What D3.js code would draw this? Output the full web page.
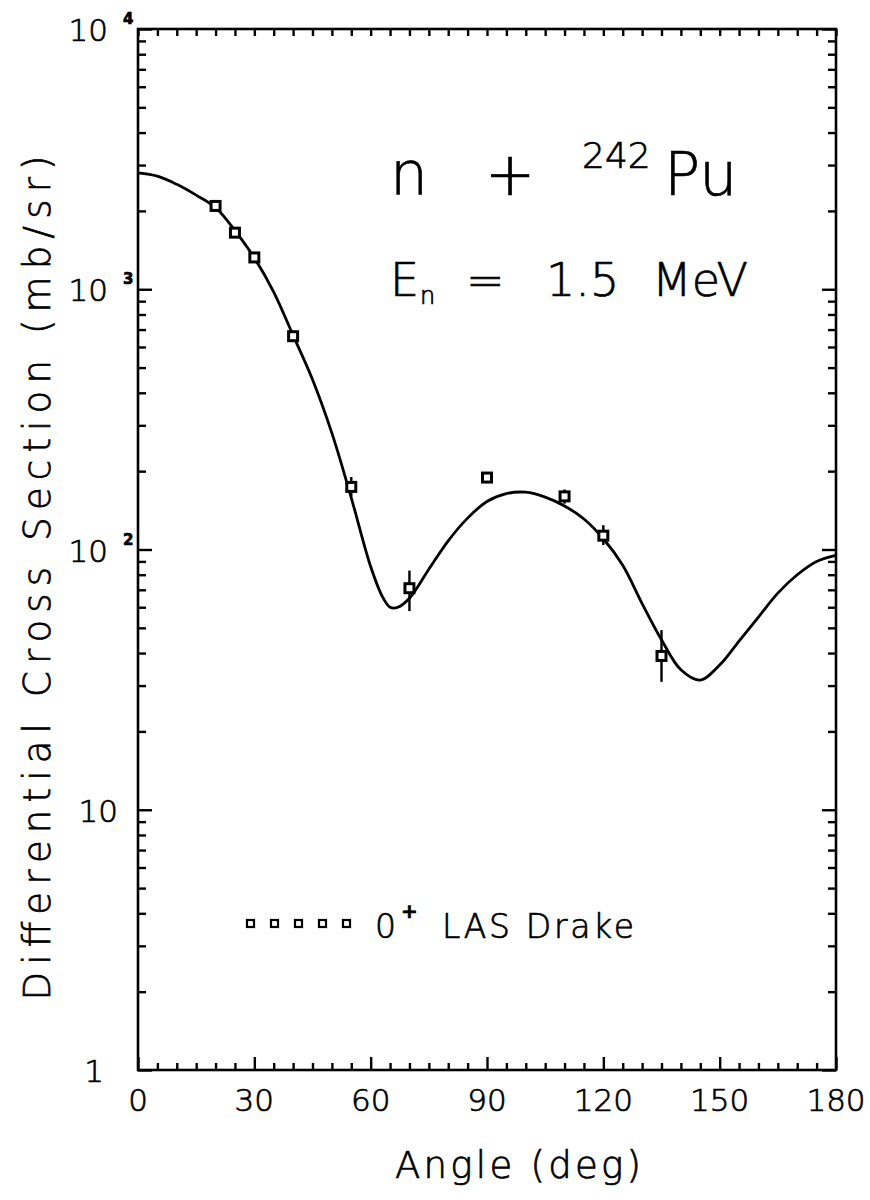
<!DOCTYPE html>
<html><head><meta charset="utf-8">
<script src="https://cdn.jsdelivr.net/npm/d3@7"></script>
<style>body{margin:0;background:#fff}svg{display:block}text{font-family:"DejaVu Sans",sans-serif;font-weight:200;fill:#000;stroke:#000;stroke-width:0.7}</style>
</head><body><svg id="c" width="870" height="1200"></svg>
<script>
// data points (LAS Drake, 0+)
const angles = [20, 25, 30, 40, 55, 70, 90, 110, 120, 135];
const xsec   = [2090, 1650, 1325, 660, 174, 71, 189, 160, 113, 39];
const errLo  = [2000, 1590, 1270, 630, 160, 58, 182, 150, 104, 31];
const errHi  = [2180, 1710, 1380, 690, 190, 83, 197, 170, 124, 49];
// calculated curve
const curveAngles = [0,5,10,15,20,25,30,35,40,45,50,55,60,63,65,67,70,75,80,85,90,95,100,105,110,115,120,125,130,135,140,145,150,155,160,165,170,175,180];
const curveVals   = [2800,2720,2530,2300,2060,1680,1320,975,665,450,280,158,86,66,60,60,65,84,108,132,153,164,166,159,147,131,110,87,62,45,34.5,31.5,36,44.5,55,68,80,90,95];
// ticks
const xTickLabels = [0,30,60,90,120,150,180];
const yDecades = [1,10,100,1000,10000];
const yDecadeExp = ["", "", "2", "3", "4"];

const svg = d3.select("#c");
const L=138, R=836, T=29, B=1070;
const x = d3.scaleLinear().domain([0,180]).range([L,R]);
const y = d3.scaleLog().domain([1,1e4]).range([B,T]);

const g = svg.append("g");
// frame
g.append("rect").attr("x",L).attr("y",T).attr("width",R-L).attr("height",B-T)
 .attr("fill","none").attr("stroke","#000").attr("stroke-width",2.6);

// x ticks via axes
const xt = d3.range(0,181,5);
const gxb = g.append("g").attr("transform",`translate(0,${B})`)
  .call(d3.axisBottom(x).tickValues(xt).tickFormat("").tickSizeOuter(0).tickSizeInner(-7));
gxb.selectAll(".tick line").attr("y2", d => d%30===0 ? -13 : -7);
g.append("g").attr("transform",`translate(0,${T})`)
  .call(d3.axisTop(x).tickValues(xt).tickFormat("").tickSizeOuter(0).tickSizeInner(-7));
// y ticks
const yt = [];
for (let e=0;e<4;e++) for (let m=1;m<10;m++) yt.push(m*Math.pow(10,e));
yt.push(1e4);
const isMajor = d => Math.abs(Math.log10(d)-Math.round(Math.log10(d)))<1e-9;
const gyl = g.append("g").attr("transform",`translate(${L},0)`)
  .call(d3.axisLeft(y).tickValues(yt).tickFormat("").tickSizeOuter(0).tickSizeInner(-8));
gyl.selectAll(".tick line").attr("x2", d => isMajor(d) ? 14 : 8);
const gyr = g.append("g").attr("transform",`translate(${R},0)`)
  .call(d3.axisRight(y).tickValues(yt).tickFormat("").tickSizeOuter(0).tickSizeInner(-8));
gyr.selectAll(".tick line").attr("x2", d => isMajor(d) ? -14 : -8);
g.selectAll(".domain").remove();
g.selectAll(".tick line").attr("stroke","#000").attr("stroke-width",2.4);

// x tick labels
g.selectAll(".xl").data(xTickLabels).join("text").attr("class","xl")
 .attr("x",d=>x(d)).attr("y",B+41).attr("text-anchor","middle")
 .attr("font-size",31).text(d=>d);

// y tick labels
yDecades.forEach((d,i)=>{
  const yy = y(d)+12;
  if (d===1) {
    g.append("text").attr("x",104).attr("y",yy).attr("text-anchor","end").attr("font-size",31).text("1");
  } else if (d===10) {
    g.append("text").attr("x",118).attr("y",yy).attr("text-anchor","end").attr("font-size",31).text("10");
  } else {
    g.append("text").attr("x",108).attr("y",yy).attr("text-anchor","end").attr("font-size",31).text("10");
    g.append("text").attr("x",123).attr("y",yy-17).attr("font-size",15).style("font-weight","bold").text(yDecadeExp[i]);
  }
});

// axis titles
g.append("text").attr("transform",`translate(50,578) rotate(-90)`).attr("text-anchor","middle")
 .attr("font-size",37).attr("textLength",845).attr("lengthAdjust","spacing")
 .text("Differential Cross Section (mb/sr)");
g.append("text").attr("x",518).attr("y",1178).attr("text-anchor","middle")
 .attr("font-size",37).attr("textLength",246).attr("lengthAdjust","spacing").text("Angle (deg)");

// curve
const line = d3.line().x((d,i)=>x(curveAngles[i])).y(d=>y(d)).curve(d3.curveCatmullRom.alpha(0.5));
g.append("path").datum(curveVals).attr("d",line).attr("fill","none").attr("stroke","#000").attr("stroke-width",2.8);

// error bars
g.selectAll(".eb").data(angles).join("line").attr("class","eb")
 .attr("x1",d=>x(d)).attr("x2",d=>x(d))
 .attr("y1",(d,i)=>y(errLo[i])).attr("y2",(d,i)=>y(errHi[i]))
 .attr("stroke","#000").attr("stroke-width",2.4);
// markers
const ms=9;
g.selectAll(".pt").data(angles).join("rect").attr("class","pt")
 .attr("x",d=>x(d)-ms/2).attr("y",(d,i)=>y(xsec[i])-ms/2).attr("width",ms).attr("height",ms)
 .attr("fill","#fff").attr("stroke","#000").attr("stroke-width",3);

// title
g.append("text").attr("x",390).attr("y",195).attr("font-size",60).text("n");
g.append("text").attr("x",485).attr("y",195).attr("font-size",60).text("+");
g.append("text").attr("x",582).attr("y",168).attr("font-size",36).text("242");
g.append("text").attr("x",664).attr("y",195).attr("font-size",60).text("Pu");

g.append("text").attr("x",390).attr("y",296).attr("font-size",46).text("E");
g.append("text").attr("x",420).attr("y",304).attr("font-size",24).text("n");
g.append("text").attr("x",466).attr("y",296).attr("font-size",46).text("=");
g.append("text").attr("x",546).attr("y",296).attr("font-size",46).text("1.5");
g.append("text").attr("x",652).attr("y",296).attr("font-size",46).text("MeV");

// legend
const legendX = [0,1,2,3,4];
g.selectAll(".lg").data(legendX).join("rect").attr("class","lg")
 .attr("x",d=>247+d*24).attr("y",920).attr("width",7).attr("height",7)
 .attr("fill","#fff").attr("stroke","#000").attr("stroke-width",2.2);
g.append("text").attr("x",375).attr("y",938).attr("font-size",33).text("0");
g.append("text").attr("x",401).attr("y",918).attr("font-size",20).style("font-weight","bold").text("+");
g.append("text").attr("x",442).attr("y",938).attr("font-size",33).attr("textLength",192).attr("lengthAdjust","spacing").text("LAS Drake");
</script></body></html>
